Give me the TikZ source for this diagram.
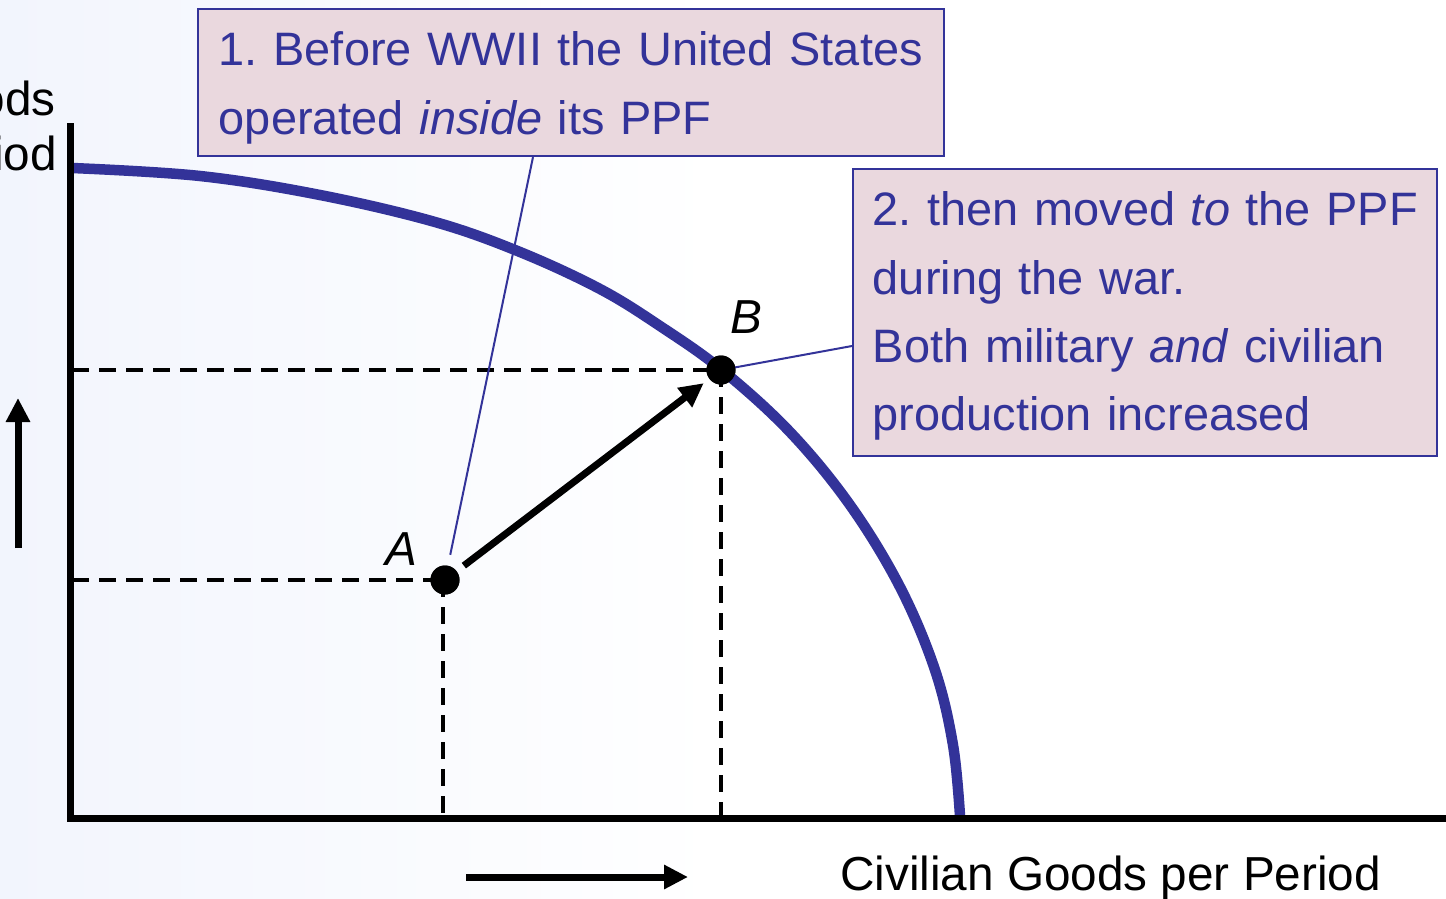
\documentclass[tikz,border=0pt]{standalone}
\usepackage{fontspec}
\setmainfont{Liberation Sans}
\usetikzlibrary{arrows.meta,calc}
\definecolor{ppfblue}{RGB}{51,51,153}
\definecolor{boxfill}{RGB}{234,216,222}
\definecolor{bgleft}{RGB}{242,245,253}
\newcommand\ppffont{\fontsize{47.7}{68.3}\selectfont\frenchspacing}
\newcommand\boxfont{\fontsize{46.9}{68.3}\selectfont\frenchspacing}
\begin{document}
\begin{tikzpicture}[x=1pt,y=-1pt,
 axis/.style={line width=7pt},
 ppf/.style={line width=10.5pt, ppfblue},
 guide/.style={line width=3.5pt, dash pattern=on 17pt off 10pt},
 dot/.style={circle, fill=black, minimum size=29pt, inner sep=0pt},
 callbox/.style={draw=ppfblue, line width=1.8pt, fill=boxfill, text=ppfblue, align=left, anchor=north west, inner ysep=10pt, font=\boxfont},
 leader/.style={ppfblue, line width=2pt},
 bigarrow/.style={line width=7pt, -{Triangle[length=24pt,width=23pt]}},
 lbl/.style={font=\ppffont, inner sep=0pt}
]
\useasboundingbox (0,0) rectangle (1446,899);
\fill[left color=bgleft, right color=white] (0,0) rectangle (720,899);

\coordinate (origin) at (70,818);
\coordinate (ytop) at (70,123);
\coordinate (xend) at (1446,818);

\node[dot] (A) at (445,580) {};
\node[dot] (B) at (721,370) {};

% guides
\draw[guide] (72,0 |- A) -- (A.center);
\draw[guide] (443,0 |- A) -- (443,0 |- origin);
\draw[guide] (72,0 |- B) -- (B.center);
\draw[guide] (B.center) -- (B |- origin);

% PPF
\draw[ppf] plot[smooth, tension=0.6] coordinates {(72,168) (200,176) (320,195) (435,222) (520,252) (600,289) (660,326) (722,370) (790,432) (850,505) (900,587) (935,670) (953,745) (960,816)};

% axes
\draw[axis] (ytop) -- (origin) -- (xend);

% boxes
\node[callbox, text width=704pt, inner xsep=21pt] (box1) at (197,8)
 {\rule{0pt}{47pt}\mbox{1. Before WWII the United States}\\
  \mbox{operated \textit{inside} its PPF}\rule[-12pt]{0pt}{12pt}};
\node[callbox, text width=544pt, inner xsep=20pt] (box2) at (852,168)
 {\rule{0pt}{47pt}\mbox{2. then moved \textit{to} the PPF}\\
  \mbox{during the war.}\\
  \mbox{Both military \textit{and} civilian}\\
  \mbox{production increased}\rule[-15pt]{0pt}{15pt}};

% leaders
\draw[leader, shorten >=11pt] (533,0 |- box1.south) -- (A);
\draw[leader] (box2.west |- 0,346) -- (B.center);

% movement arrow
\draw[bigarrow, shorten <=9pt, shorten >=7pt] (A) -- (B);
\node[dot] at (A) {};
\node[dot] at (B) {};

% direction arrows
\coordinate (ua0) at (18,548);
\coordinate (ua1) at (18,398);
\coordinate (ba0) at (466,877);
\coordinate (ba1) at (688,877);
\draw[bigarrow] (ua0) -- (ua1);
\draw[bigarrow] (ba0) -- (ba1);

% labels
\node[lbl, anchor=base west] (labA) at (385,565) {\itshape A};
\node[lbl, anchor=base west] (labB) at (730,333) {\itshape B};
\node[lbl, anchor=base east] (ylab1) at (56,115) {ods};
\node[lbl, anchor=base east] (ylab2) at (57,170) {iod};
\node[lbl, anchor=base west] (xlab) at (840,890) {Civilian Goods per Period};
\end{tikzpicture}
\end{document}
